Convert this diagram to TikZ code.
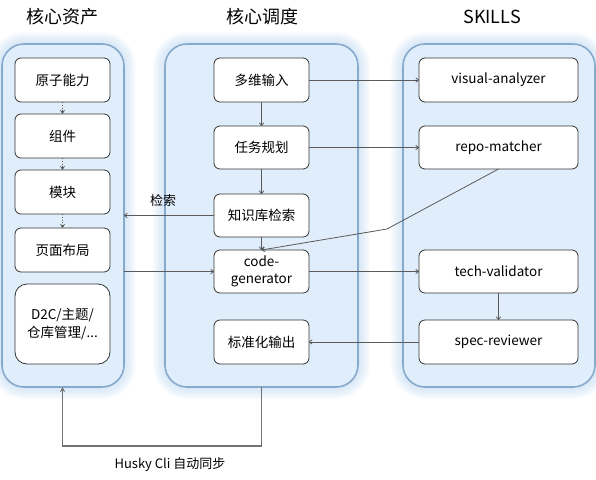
\documentclass[tikz,border=0pt]{standalone}
\usepackage{fontspec}
\setmainfont{Noto Sans CJK SC}
\usetikzlibrary{arrows.meta,backgrounds,calc}
\definecolor{contfill}{HTML}{E0EEFB}
\definecolor{contdraw}{HTML}{86A9CC}
\definecolor{glowc}{HTML}{A9CBEC}
\definecolor{arrowc}{HTML}{5A5A5A}
\tikzset{
  container/.style={draw=contdraw, fill=contfill, line width=1.6pt, rounded corners=22pt, inner sep=0pt, outer sep=0pt},
  box/.style={draw=black!80, fill=white, line width=0.8pt, rounded corners=6pt, inner sep=0pt, outer sep=0pt, font=\fontsize{13.5}{17.5}\selectfont, align=center},
  title/.style={font=\fontsize{18}{22}\selectfont},
  conn/.style={draw=arrowc, line width=0.8pt, -{To[length=3.5pt,width=5pt]}},
  dotconn/.style={draw=arrowc, line width=0.8pt, dotted, -{Stealth[length=4pt,width=5pt]}},
  syncline/.style={draw=black!55, line width=1.3pt, -{Stealth[length=5pt,width=5pt]}},
  lbl/.style={font=\fontsize{13}{16}\selectfont},
}
\begin{document}
\begin{tikzpicture}[x=1pt,y=-1pt]
\useasboundingbox (0,0) rectangle (596,479);
% titles
\node[title] (t1) at (62,17) {核心资产};
\node[title] (t2) at (262,17) {核心调度};
\node[title] (t3) at (492,17) {SKILLS};
% containers
\node[container, minimum width=122pt, minimum height=343pt] (lcont) at (63,215.5) {};
\node[container, minimum width=193pt, minimum height=343pt] (mcont) at (261.5,215.5) {};
\node[container, minimum width=192pt, minimum height=343pt] (rcont) at (499,215.5) {};
\begin{scope}[on background layer]
\foreach \n in {lcont,mcont,rcont}{
  \foreach \w in {3,6,9,12,15,18,21,24}{
    \draw[glowc, line width=\w pt, rounded corners=22pt, opacity=0.07] (\n.north west) rectangle (\n.south east);
  }
}
\end{scope}
% left boxes
\node[box, minimum width=95pt, minimum height=44pt] (l1) at (62.5,80) {原子能力};
\node[box, minimum width=95pt, minimum height=44pt] (l2) at (62.5,136) {组件};
\node[box, minimum width=95pt, minimum height=44pt] (l3) at (62.5,192) {模块};
\node[box, minimum width=95pt, minimum height=44pt] (l4) at (62.5,250) {页面布局};
\node[box, minimum width=95pt, minimum height=80pt, rounded corners=12pt] (l5) at (62.5,324) {D2C/主题/\\仓库管理/...};
% middle boxes
\node[box, minimum width=95pt, minimum height=44pt] (m1) at (261.5,80) {多维输入};
\node[box, minimum width=95pt, minimum height=43pt] (m2) at (261.5,147.5) {任务规划};
\node[box, minimum width=95pt, minimum height=43pt] (m3) at (261.5,215.5) {知识库检索};
\node[box, minimum width=95pt, minimum height=43pt] (m4) at (261.5,271.5) {code-\\generator};
\node[box, minimum width=95pt, minimum height=44pt] (m5) at (261.5,342) {标准化输出};
% right boxes
\node[box, minimum width=159pt, minimum height=44pt] (r1) at (498.5,80) {visual-analyzer};
\node[box, minimum width=159pt, minimum height=43pt] (r2) at (498.5,147.5) {repo-matcher};
\node[box, minimum width=159pt, minimum height=43pt] (r3) at (498.5,271.5) {tech-validator};
\node[box, minimum width=159pt, minimum height=44pt] (r4) at (498.5,342) {spec-reviewer};
% left dotted arrows
\draw[dotconn] (l1.south) -- (l2.north);
\draw[dotconn] (l2.south) -- (l3.north);
\draw[dotconn] (l3.south) -- (l4.north);
% middle flow
\draw[conn] (m1.south) -- (m2.north);
\draw[conn] (m2.south) -- (m3.north);
\draw[conn] (m3.south) -- (m4.north);
% to skills
\draw[conn] (m1.east) -- (r1.west);
\draw[conn] (m2.east) -- (r2.west);
\coordinate (bend) at (387,229);
\draw[conn] (r2.south) -- (bend) -- (m4.north);
\draw[conn] (m4.east) -- (r3.west);
\draw[conn] (r3.south) -- (r4.north);
\draw[conn] (r4.west) -- (m5.east);
% retrieval
\draw[conn] (m3.west) -- (m3.west -| lcont.east);
\node[lbl] (jl) at (163,201) {检索};
\draw[conn] (lcont.east |- m4.west) -- (m4.west);
% sync
\coordinate (sy) at (0,446);
\draw[syncline] (mcont.south) -- (mcont.south |- sy) -| (l5.south |- lcont.south);
\node[lbl] (hl) at (170,465) {Husky Cli 自动同步};
\end{tikzpicture}
\end{document}
